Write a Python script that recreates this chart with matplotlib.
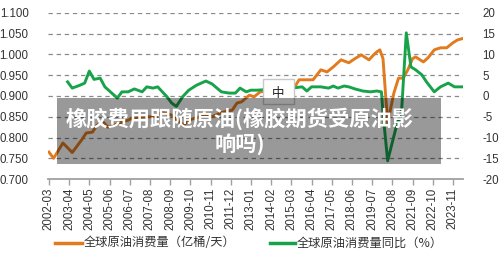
import matplotlib
matplotlib.use("Agg")
import matplotlib.pyplot as plt
from matplotlib.patches import Rectangle
from matplotlib.lines import Line2D

plt.rcParams['font.family'] = ['Liberation Sans', 'Noto Sans CJK SC', 'DejaVu Sans']

# global oil consumption (100M barrels/day), left axis
cons_dates = ['2002-03', '2002-06', '2002-12', '2003-06', '2003-12', '2004-03', '2004-07',
              '2004-10', '2005-02', '2005-05', '2005-09', '2006-02', '2006-06', '2006-09',
              '2007-03', '2007-10', '2008-04', '2008-10', '2009-03', '2009-06', '2009-09',
              '2010-04', '2010-08', '2010-12', '2011-06', '2012-01', '2012-04', '2012-07',
              '2012-12', '2013-03', '2013-07', '2014-01', '2014-08', '2015-03', '2015-06',
              '2015-08', '2016-02', '2016-05', '2016-10', '2017-02', '2017-06', '2017-11',
              '2018-04', '2018-08', '2018-12', '2019-05', '2019-08', '2019-10', '2019-12',
              '2020-02', '2020-05', '2020-09', '2020-12', '2021-03', '2021-06', '2021-09',
              '2021-11', '2022-04', '2022-07', '2022-11', '2023-03', '2023-07', '2023-11',
              '2024-02', '2024-05']
cons_vals = [0.765, 0.750, 0.787, 0.764, 0.794, 0.811, 0.813,
             0.830, 0.837, 0.825, 0.830, 0.837, 0.842, 0.847,
             0.850, 0.850, 0.860, 0.854, 0.837, 0.830, 0.842,
             0.850, 0.854, 0.850, 0.860, 0.866, 0.883, 0.886,
             0.902, 0.898, 0.910, 0.912, 0.918, 0.922, 0.927,
             0.939, 0.939, 0.939, 0.963, 0.958, 0.970, 0.987,
             0.980, 0.990, 0.999, 0.987, 0.999, 1.006, 1.011,
             0.990, 0.835, 0.907, 0.943, 0.943, 0.963, 0.990,
             0.994, 0.982, 0.992, 1.011, 1.016, 1.016, 1.028,
             1.035, 1.038]

# year-on-year change (%), right axis
yoy_dates = ['2003-03', '2003-06', '2003-11', '2004-02', '2004-05', '2004-08', '2004-12',
             '2005-03', '2005-11', '2006-02', '2006-06', '2006-10', '2007-03', '2007-06',
             '2007-10', '2008-01', '2008-07', '2008-10', '2009-01', '2009-05', '2009-09',
             '2010-02', '2010-08', '2010-12', '2011-06', '2011-11', '2012-03', '2012-06',
             '2012-10', '2013-01', '2013-05', '2014-01', '2014-08', '2015-03', '2015-10',
             '2016-01', '2016-04', '2016-10', '2017-03', '2017-06', '2017-09', '2018-01',
             '2018-04', '2018-08', '2019-01', '2019-06', '2019-10', '2020-01', '2020-02',
             '2020-05', '2020-10', '2021-02', '2021-05', '2021-08', '2021-11', '2022-03',
             '2022-06', '2022-11', '2023-03', '2023-08', '2023-12', '2024-05']
yoy_vals = [3.4, 1.9, 2.6, 3.1, 6.0, 4.0, 4.3,
            2.2, -0.5, 1.0, 1.0, 1.7, 1.0, 2.2,
            1.9, 2.2, -0.2, -1.7, -2.5, -0.2, 1.4,
            2.6, 3.6, 2.9, 1.0, 0.7, 0.7, 1.9,
            1.0, 1.4, 1.4, 1.6, 1.8, 1.9, 2.2,
            1.2, 2.2, 2.2, 1.9, 2.4, 1.9, 2.4,
            2.2, 1.7, 1.2, 1.0, 1.2, 1.0, -4.1,
            -15.6, -8.2, -3.4, 15.2, 7.0, 6.3, 5.1,
            3.4, 1.0, 2.2, 3.1, 2.2, 2.2]

tick_labels = ['2002-03', '2003-04', '2004-05', '2005-06', '2006-07', '2007-08', '2008-09',
               '2009-10', '2010-11', '2011-12', '2013-01', '2014-02', '2015-03', '2016-04',
               '2017-05', '2018-06', '2019-07', '2020-08', '2021-09', '2022-10', '2023-11']

left_ticks = [0.70, 0.75, 0.80, 0.85, 0.90, 0.95, 1.00, 1.05, 1.10]
right_ticks = [-20, -15, -10, -5, 0, 5, 10, 15, 20]


def month_idx(s):
    y, m = s.split('-')
    return (int(y) - 2002) * 12 + int(m) - 3


orange = '#E27A1E'
green = '#17A34A'

fig = plt.figure(figsize=(5, 2.63), dpi=100)
ax = fig.add_axes([0.096, 0.319, 0.83, 0.632])
ax2 = ax.twinx()

ax.plot([month_idx(d) for d in cons_dates], cons_vals, color=orange, lw=2.1, zorder=3)
ax2.plot([month_idx(d) for d in yoy_dates], yoy_vals, color=green, lw=2.1, zorder=3)

ax.set_xlim(-0.6, 266.5)
ax.set_ylim(0.70, 1.10)
ax2.set_ylim(-20, 20)

ax.set_yticks(left_ticks)
ax.set_yticklabels(['%.3f' % v for v in left_ticks])
ax2.set_yticks(right_ticks)
ax2.set_yticklabels([str(v) for v in right_ticks])

xt = [month_idx(t) for t in tick_labels]
ax.set_xticks(xt)
ax.set_xticklabels(tick_labels, rotation=90)

for v in left_ticks[1:]:
    ax.axhline(v, color='#8a8a8a', lw=0.9, ls=(0, (3.5, 3)), zorder=1)

for a in (ax, ax2):
    for s in a.spines.values():
        s.set_visible(False)
ax.spines['bottom'].set_visible(True)
ax.spines['bottom'].set_color('#a0a0a0')
ax.spines['bottom'].set_linewidth(1.3)

ax.tick_params(axis='y', length=0, pad=14, labelsize=8.3, colors='#333333')
ax2.tick_params(axis='y', length=0, pad=14, labelsize=8.3, colors='#333333')
ax.tick_params(axis='x', length=4, width=1, color='#a0a0a0', pad=2, labelsize=8.3,
               labelcolor='#333333')

# legend
def fx(px):
    return px / 500


def fy(py):
    return 1 - py / 263


fig.add_artist(Line2D([fx(55), fx(82)], [fy(243), fy(243)], color=orange, lw=2.5))
fig.text(fx(84), fy(243), '全球原油消费量（亿桶/天）', fontsize=8.8, va='center',
         color='#333333', family=['Noto Sans CJK SC', 'DejaVu Sans'])
fig.add_artist(Line2D([fx(270), fx(295)], [fy(243), fy(243)], color=green, lw=2.5))
fig.text(fx(297), fy(243), '全球原油消费量同比（%）', fontsize=8.8, va='center',
         color='#333333', family=['Noto Sans CJK SC', 'DejaVu Sans'])

# small box with 中
fig.patches.append(Rectangle((fx(263), fy(104)), fx(31), 25 / 263, transform=fig.transFigure,
                             facecolor='white', edgecolor='#c8c8c8', lw=1, zorder=5))
fig.text(fx(278.5), fy(93), '中', fontsize=9, ha='center', va='center', zorder=6,
         color='#222222', family=['Noto Sans CJK SC'])

# title banner
fig.patches.append(Rectangle((fx(57), fy(164)), fx(384), 66 / 263, transform=fig.transFigure,
                             facecolor='black', alpha=0.4, lw=0, zorder=7))
fig.text(fx(240), fy(131), '橡胶费用跟随原油(橡胶期货受原油影\n响吗)', fontsize=15.3,
         fontweight='bold', color='white', ha='center', va='center', linespacing=1.2,
         zorder=8, family=['Noto Sans CJK SC', 'DejaVu Sans'])

fig.savefig('out.png', dpi=100)
